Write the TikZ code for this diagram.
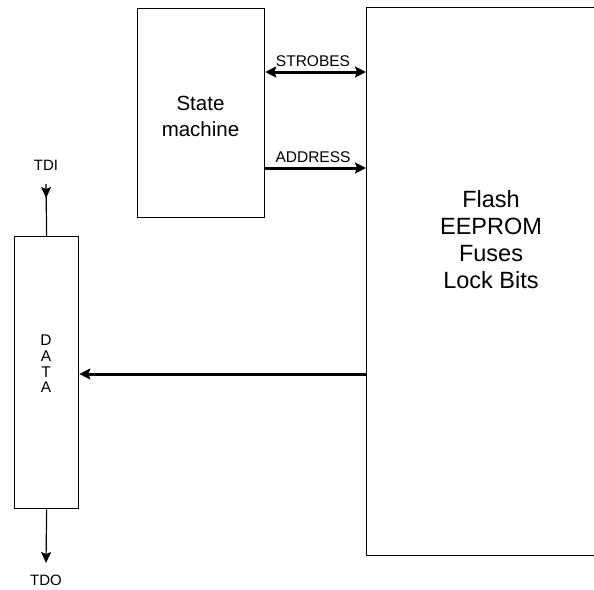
\documentclass[tikz,border=0pt]{standalone}
\usepackage{fontspec}
\setmainfont{Liberation Sans}
\usetikzlibrary{arrows.meta,decorations.markings}
\begin{document}
\begin{tikzpicture}[x=1pt,y=-1pt,
  box/.style={draw=black,line width=1.3pt,inner sep=0pt,anchor=north west},
  bus/.style={line width=3pt,-{Stealth[length=11pt,width=11pt,inset=2pt]}},
  sig/.style={line width=1.2pt},
  tip/.style={-{Stealth[length=11pt,width=10pt,inset=2pt]}},
  lbl/.style={inner sep=0pt,font=\fontsize{15.5}{16}\selectfont}]
\useasboundingbox (0,0) rectangle (594,589);
\clip (0,0) rectangle (594,589);
% boxes
\node[box,minimum width=127pt,minimum height=209pt] (sm) at (137,8) {};
\node[align=center,font=\fontsize{20.5}{26}\selectfont] (smt) at (200.5,116) {State\\machine};
\node[box,minimum width=250pt,minimum height=548pt] (flash) at (366,7) {};
\node[align=center,font=\fontsize{23.5}{27}\selectfont] (flt) at (491,240) {Flash\\EEPROM\\Fuses\\Lock Bits};
\node[box,minimum width=64pt,minimum height=272pt] (data) at (14,236) {};
\node[align=center,font=\fontsize{15.5}{15.7}\selectfont] (dt) at (46,364) {D\\A\\T\\A};
% bus arrows
\coordinate (sA) at (sm.east |- 0,72);
\coordinate (fA) at (flash.west |- 0,72);
\coordinate (sB) at (sm.east |- 0,168);
\coordinate (fB) at (flash.west |- 0,168);
\coordinate (fC) at (flash.west |- 0,374);
\coordinate (dC) at (data.east |- 0,374);
\draw[bus,{Stealth[length=11pt,width=11pt,inset=2pt]}-{Stealth[length=11pt,width=11pt,inset=2pt]}] (sA) -- (fA);
\draw[bus] (sB) -- (fB);
\draw[bus] (fC) -- (dC);
\node[lbl,anchor=base] (strobes) at (313,66) {STROBES};
\node[lbl,anchor=base] (address) at (313,162) {ADDRESS};
% TDI / TDO
\coordinate (tdi) at (46,184);
\coordinate (tdo) at (46,563);
\draw[sig,postaction={decorate},decoration={markings,mark=at position 0.27 with {\arrow{Stealth[length=11pt,width=10pt,inset=2pt]}}}] (tdi) -- (data.north);
\draw[sig,tip] (data.south) -- (tdo);
\node[inner sep=0pt,font=\fontsize{15}{16}\selectfont] (tdil) at (46,165) {TDI};
\node[inner sep=0pt,font=\fontsize{15}{16}\selectfont] (tdol) at (46,580) {TDO};
\end{tikzpicture}
\end{document}
